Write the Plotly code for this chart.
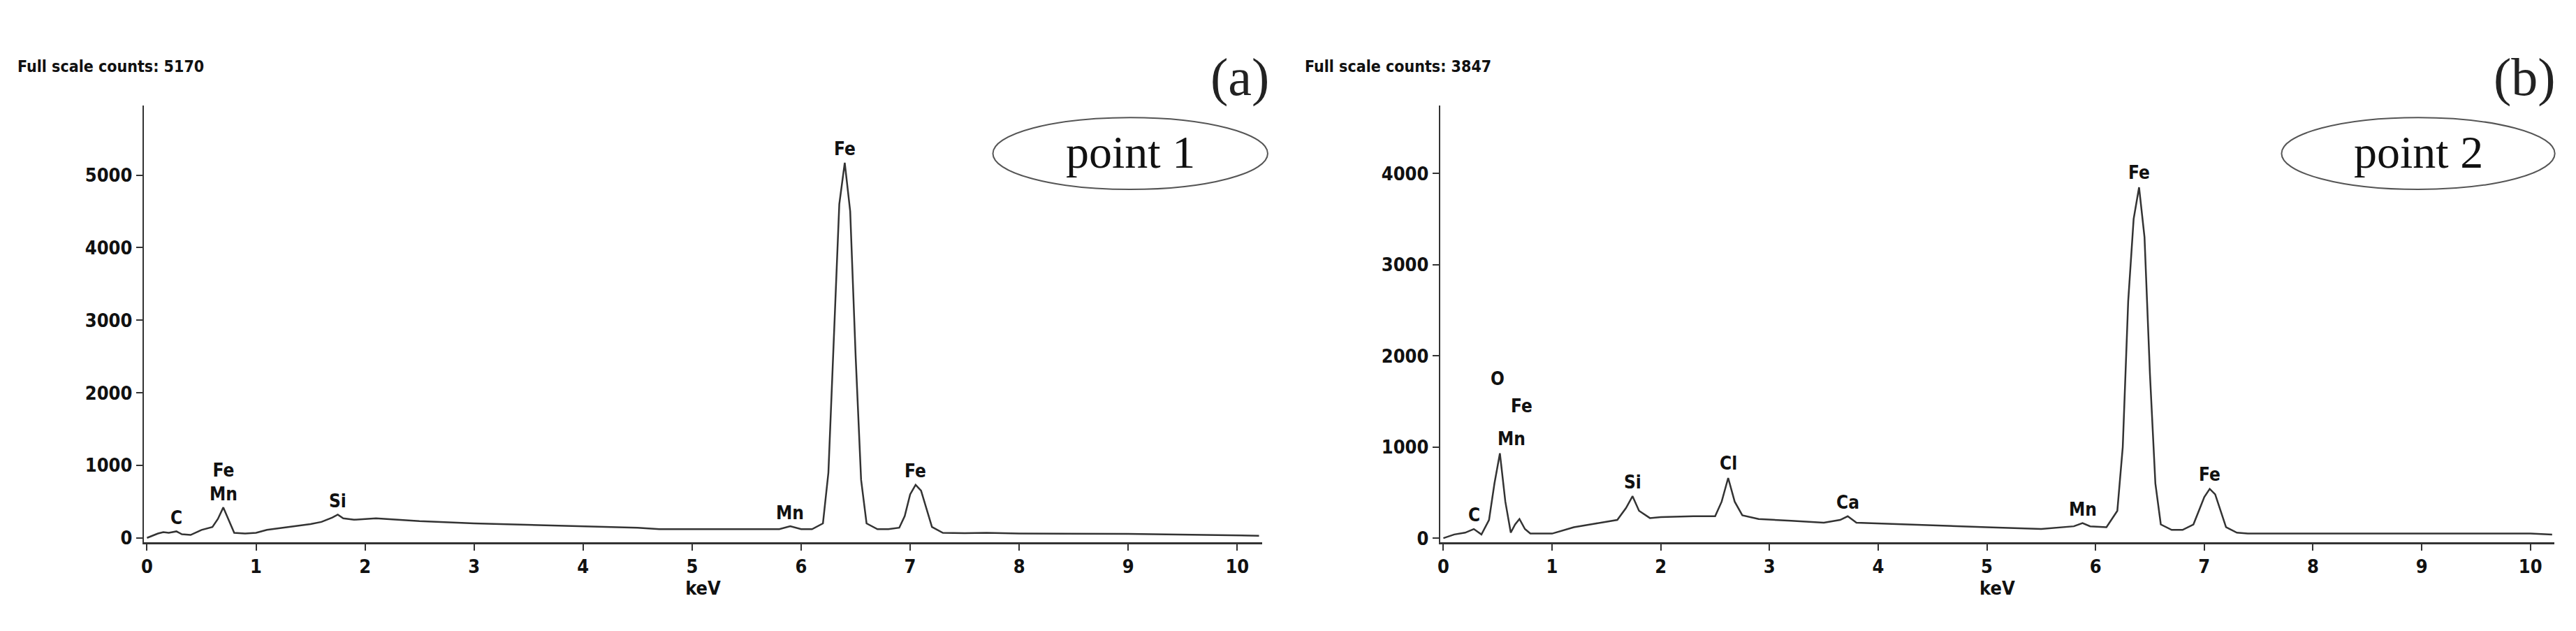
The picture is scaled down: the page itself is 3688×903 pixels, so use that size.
import plotly.graph_objects as go

# spectrum (a) - point 1
energy_a = [0, 0.05, 0.1, 0.15, 0.2, 0.27, 0.32, 0.4, 0.5, 0.6, 0.65, 0.7, 0.75, 0.8, 0.9,
            1.0, 1.1, 1.2, 1.4, 1.5, 1.6, 1.7, 1.75, 1.8, 1.9, 2.0, 2.1, 2.3, 2.5, 3.0,
            3.5, 4.0, 4.5, 4.7, 5.0, 5.5, 5.8, 5.9, 6.0, 6.1, 6.2, 6.25, 6.3, 6.35, 6.4,
            6.45, 6.5, 6.55, 6.6, 6.7, 6.8, 6.9, 6.95, 7.0, 7.05, 7.1, 7.15, 7.2, 7.3, 7.5,
            7.7, 8, 9, 10, 10.2]
counts_a = [0, 30, 60, 80, 70, 90, 50, 40, 110, 150, 260, 420, 240, 70, 60,
            70, 110, 130, 170, 190, 220, 280, 320, 270, 250, 260, 270, 250, 230, 200,
            180, 160, 140, 120, 120, 120, 120, 160, 120, 120, 200, 900, 2800, 4600, 5170,
            4500, 2500, 800, 200, 120, 120, 140, 300, 600, 730, 650, 400, 150, 70, 65,
            70, 60, 55, 40, 30]

# spectrum (b) - point 2
energy_b = [0, 0.1, 0.2, 0.28, 0.35, 0.42, 0.47, 0.52, 0.57, 0.62, 0.66, 0.7, 0.75, 0.8, 1.0,
            1.2, 1.4, 1.6, 1.68, 1.74, 1.8, 1.9, 2.0, 2.3, 2.5, 2.56, 2.62, 2.68, 2.75, 2.9,
            3.2, 3.5, 3.65, 3.72, 3.8, 4.0, 4.5, 5.0, 5.5, 5.8, 5.88, 5.95, 6.1, 6.2, 6.25,
            6.3, 6.35, 6.4, 6.45, 6.5, 6.55, 6.6, 6.7, 6.8, 6.9, 6.95, 7.0, 7.05, 7.1, 7.15,
            7.2, 7.3, 7.4, 8, 9, 10, 10.2]
counts_b = [0, 40, 60, 100, 40, 200, 600, 930, 400, 60, 150, 210, 100, 50, 50,
            120, 160, 200, 330, 460, 300, 220, 230, 240, 240, 400, 660, 400, 250, 210,
            190, 170, 200, 240, 170, 160, 140, 120, 100, 130, 165, 130, 120, 300, 1000,
            2600, 3500, 3847, 3300, 1800, 600, 150, 90, 90, 150, 300, 450, 540, 480, 300,
            120, 60, 50, 50, 50, 50, 40]

# peak labels: text, energy, count at label base
labels_a = ["C", "Fe<br>Mn", "Si", "Mn", "Fe", "Fe"]
label_e_a = [0.27, 0.7, 1.75, 5.9, 6.4, 7.05]
label_c_a = [110, 440, 340, 180, 5200, 760]

labels_b = ["C", "O", "Fe", "Mn", "Si", "Cl", "Ca", "Mn", "Fe", "Fe"]
label_e_b = [0.28, 0.5, 0.72, 0.63, 1.74, 2.62, 3.72, 5.88, 6.4, 7.05]
label_c_b = [120, 1620, 1320, 960, 480, 690, 260, 185, 3880, 570]

fig = go.Figure()
fig.add_trace(go.Scatter(x=energy_a, y=counts_a, mode="lines", xaxis="x", yaxis="y",
                         line=dict(color="#333", width=2.5), showlegend=False))
fig.add_trace(go.Scatter(x=energy_b, y=counts_b, mode="lines", xaxis="x2", yaxis="y2",
                         line=dict(color="#333", width=2.5), showlegend=False))

tickfont = dict(family="DejaVu Sans Condensed", size=27, color="#111", weight="bold")
lab_font = dict(family="DejaVu Sans Condensed", size=26, color="#111", weight="bold")

for t, e, c in zip(labels_a, label_e_a, label_c_a):
    fig.add_annotation(x=e, y=c, text=t, xref="x", yref="y", showarrow=False,
                       yanchor="bottom", font=lab_font)
for t, e, c in zip(labels_b, label_e_b, label_c_b):
    fig.add_annotation(x=e, y=c, text=t, xref="x2", yref="y2", showarrow=False,
                       yanchor="bottom", font=lab_font)

xcommon = dict(showline=True, linecolor="#333", linewidth=3, ticks="outside", ticklen=9,
               tickwidth=2, tickcolor="#333", tickfont=tickfont, showgrid=False, zeroline=False,
               dtick=1, title=dict(text="keV", font=tickfont, standoff=2))
ycommon = dict(showline=True, linecolor="#333", linewidth=2, ticks="outside", ticklen=9,
               tickwidth=2, tickcolor="#333", tickfont=tickfont, showgrid=False, zeroline=False,
               dtick=1000)

fig.update_layout(
    width=3688, height=903, paper_bgcolor="white", plot_bgcolor="white",
    margin=dict(l=0, r=0, t=0, b=0),
    xaxis=dict(xcommon, domain=[0.0526, 0.4873], range=[-0.03, 10.23], anchor="y"),
    yaxis=dict(ycommon, domain=[0.14, 0.84], range=[-60, 5960], anchor="x"),
    xaxis2=dict(xcommon, domain=[0.5564, 0.9894], range=[-0.03, 10.22], anchor="y2"),
    yaxis2=dict(ycommon, domain=[0.14, 0.84], range=[-45, 4745], anchor="x2"),
)

small = dict(family="DejaVu Sans Condensed", size=23, color="#111")
serif_big = dict(family="Liberation Serif", size=76, color="#222")
serif_mid = dict(family="Liberation Serif", size=66, color="#111")
for x0, txt, lab, pt, ell in [
    (0.003, "Full scale counts: 5170", "(a)", "point 1", (0.3826, 0.4894)),
    (0.5033, "Full scale counts: 3847", "(b)", "point 2", (0.8834, 0.9896)),
]:
    fig.add_annotation(x=x0, y=1 - 88 / 903, xref="paper", yref="paper", text="<b>%s</b>" % txt,
                       showarrow=False, xanchor="left", yanchor="middle", font=small)
    fig.add_annotation(x=ell[1] + 0.001, y=1 - 104 / 903, xref="paper", yref="paper", text=lab,
                       showarrow=False, xanchor="right", yanchor="middle", font=serif_big)
    fig.add_shape(type="circle", xref="paper", yref="paper", x0=ell[0], x1=ell[1],
                  y0=1 - 266 / 903, y1=1 - 162 / 903, line=dict(color="#555", width=2))
    fig.add_annotation(x=(ell[0] + ell[1]) / 2, y=1 - 212 / 903, xref="paper", yref="paper",
                       text=pt, showarrow=False, xanchor="center", yanchor="middle", font=serif_mid)

fig.write_html("out.html")
